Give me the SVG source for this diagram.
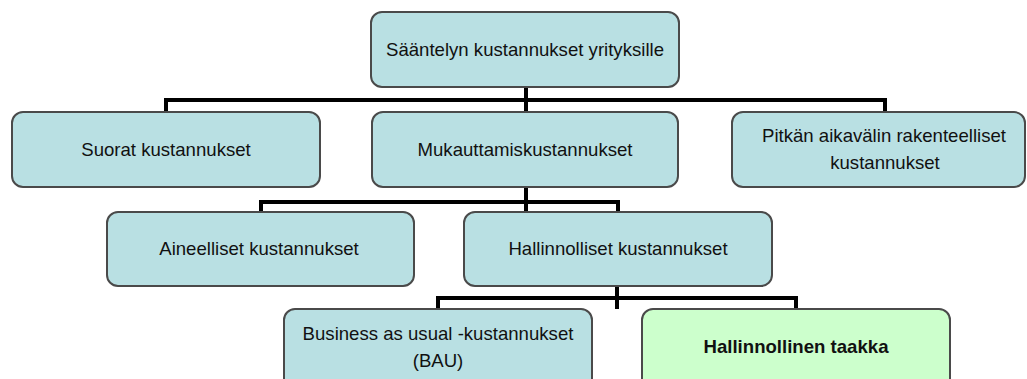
<svg xmlns="http://www.w3.org/2000/svg" width="1027" height="379" viewBox="0 0 1027 379">
<style>
.box{fill:#b9e0e3;stroke:#4a4a4a;stroke-width:2}
.green{fill:#ccffcc;stroke:#4a4a4a;stroke-width:2}
.t{font-family:"Liberation Sans",Arial,sans-serif;font-size:18.6px;fill:#111;text-anchor:middle}
.b{font-weight:bold}
.c{fill:none;stroke:#000;stroke-width:4}
</style>
<rect width="1027" height="379" fill="#fff"/>
<g id="connectors">
<path class="c" d="M526 87V112M166 112V100H885V112"/>
<path class="c" d="M526 187V212M261 212V202H618V212"/>
<path class="c" d="M617 286V309M438 309V298H796V309"/>
</g>
<g id="root"><rect class="box" x="371" y="12" width="308" height="75" rx="11"/><text class="t" x="525" y="56">Sääntelyn kustannukset yrityksille</text></g>
<g id="suorat"><rect class="box" x="12" y="112" width="308" height="75" rx="11"/><text class="t" x="166" y="156">Suorat kustannukset</text></g>
<g id="mukauttamis"><rect class="box" x="372" y="112" width="306" height="75" rx="11"/><text class="t" x="525" y="156">Mukauttamiskustannukset</text></g>
<g id="pitkan"><rect class="box" x="732" y="112" width="293" height="75" rx="11"/><text class="t" x="884" y="142">Pitkän aikavälin rakenteelliset</text><text class="t" x="885" y="169">kustannukset</text></g>
<g id="aineelliset"><rect class="box" x="107" y="212" width="307" height="74" rx="11"/><text class="t" x="259" y="255">Aineelliset kustannukset</text></g>
<g id="hallinnolliset"><rect class="box" x="464" y="212" width="308" height="74" rx="11"/><text class="t" x="618" y="255">Hallinnolliset kustannukset</text></g>
<g id="bau"><rect class="box" x="284" y="309" width="308" height="80" rx="11"/><text class="t" x="438" y="340">Business as usual -kustannukset</text><text class="t" x="438" y="367">(BAU)</text></g>
<g id="taakka"><rect class="green" x="642" y="309" width="308" height="80" rx="11"/><text class="t b" x="796" y="353">Hallinnollinen taakka</text></g>
</svg>
